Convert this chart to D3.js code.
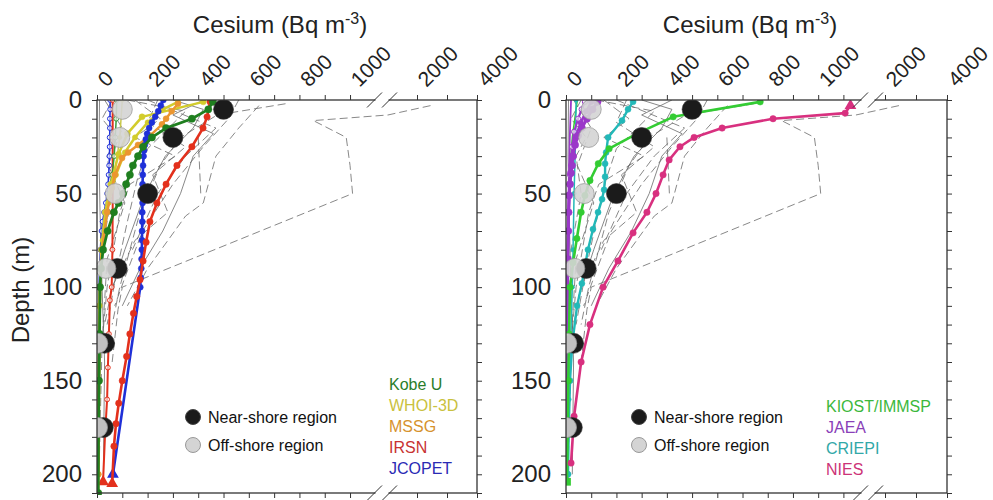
<!DOCTYPE html>
<html>
<head>
<meta charset="utf-8">
<script src="https://cdn.jsdelivr.net/npm/d3@7"></script>
<style>
  body { margin: 0; background: #fff; }
  text { font-family: "Liberation Sans", Arial, sans-serif; }
</style>
</head>
<body>
<svg id="chart" width="993" height="500"></svg>
<script>
// ---- Observed cesium profiles (depth m, Bq m-3) ----
const nearShore = [[5, 500], [20, 300], [50, 200], [90, 80], [130, 30], [175, 25]];
const offShore  = [[5, 100], [20, 90], [50, 72], [90, 35], [130, 3], [175, 2]];

// ---- Models, left panel: [depth, Cs] ----
const kobeU1 = [[1,458],[5,440],[10,375],[15,273],[20,217],[25,182],[30,162],[35,142],[40,130],[45,115],[50,103],[55,85],[60,67],[70,42],[80,24],[90,16],[100,12],[125,10],[150,8],[175,6],[210,5]];
const kobeU2 = [[0,78],[10,76],[20,72],[30,68],[40,60],[50,50],[60,42],[70,30],[80,20],[90,14],[100,10],[150,6],[200,4]];
const whoi1  = [[1,420],[9,178],[18,120],[29,85],[45,55],[60,32],[80,17],[110,9],[150,6],[210,5]];
const whoi2  = [[1,320],[5,260],[12,200],[20,150],[28,110],[40,75],[55,45],[75,22],[100,12],[150,8],[200,6]];
const whoi3  = [[0,100],[20,90],[40,70],[60,40],[80,20],[100,12],[150,8],[200,5]];
const mssg1  = [[2,320],[6,295],[10,273],[13,257],[19,210],[24,162],[28,123],[31,99],[40,71],[47,59],[60,40],[80,20],[100,12],[150,8],[200,5]];
const irsn1  = [[1,447],[9,435],[15,419],[25,375],[35,316],[45,273],[55,237],[65,209],[76,194],[86,182],[96,170],[105,157],[114,144],[125,130],[137,117],[150,100],[162,86],[173,75],[185,67],[205,60]];
const irsn2  = [[0,62],[20,62],[40,62],[60,62],[80,61],[100,58],[107,51],[125,47],[143,43],[160,40],[178,32],[204,24]];
const jcopet1 = [[0,262],[3,252],[6,242],[9,230],[12,217],[15,206],[18,198],[21,193],[24,189],[27,186],[30,184],[35,182],[40,181],[45,180],[50,180],[55,180],[60,179],[65,179],[70,178],[75,178],[80,177],[85,176],[90,175],[95,173],[100,171],[200,63]];
const jcopet2 = [[0,52],[5,52],[10,51],[15,51],[20,50],[25,50],[30,49],[35,48],[40,46],[45,44],[50,40],[55,35],[60,28],[65,22],[70,18],[80,13],[90,10],[100,8],[200,4]];

// ---- Models, right panel ----
const kiost1 = [[1,770],[9,425],[18,282],[26,171],[34,128],[43,95],[51,75],[60,60],[74,43],[87,28],[100,16],[125,12],[150,9],[175,7],[204,4]];
const kiost2 = [[0,45],[10,35],[20,25],[40,15],[60,12],[100,8],[200,4]];
const jaea1  = [[1,125],[5,105],[10,83],[15,63],[19,48],[24,36],[30,28],[35,24],[39,20],[45,16],[51,12],[60,10],[70,9],[85,7],[100,6],[125,5],[150,4],[175,3],[200,3]];
const jaea2  = [[1,75],[5,62],[10,48],[17,32],[25,24],[40,16],[60,11],[100,6],[150,4],[200,2]];
const jaea3  = [[0,20],[20,15],[50,10],[100,6],[200,3]];
const jaea4  = [[1,100],[6,80],[12,58],[20,38],[30,24],[45,15],[70,9],[100,5],[200,2]];
const criepi1 = [[1,266],[5,246],[11,222],[20,167],[28,159],[34,155],[41,155],[48,151],[53,143],[60,127],[69,107],[80,87],[89,75],[98,63],[110,44],[130,25],[150,16],[175,11],[200,8]];
const criepi2 = [[0,40],[20,38],[50,32],[80,28],[100,25],[130,18],[160,12],[200,6]];
const nies1  = [[3,1128],[7,1107],[10,821],[15,619],[20,508],[25,452],[32,409],[40,385],[50,357],[60,321],[71,266],[86,206],[100,147],[120,95],[140,60],[169,32],[194,20]];

// ---- Ensemble members drawn as thin grey background lines ----
const web1  = [[3,2450],[8,1150],[11,855],[20,985],[35,1000],[50,1010],[100,100],[112,83],[140,60]];
const web2  = [[2,745],[8,475],[20,330],[35,250],[60,170],[100,90],[120,60]];
const web3  = [[0,560],[10,520],[25,420],[45,300],[70,180],[95,110],[110,70]];
const web4  = [[0,300],[5,420],[15,380],[30,270],[50,190],[80,110],[105,50]];
const web5  = [[0,150],[10,250],[20,150],[30,310],[45,130],[60,90],[100,40],[130,20]];
const web6  = [[0,60],[10,20],[20,80],[30,40],[50,60],[80,20],[100,15],[200,5]];
const web7  = [[0,240],[12,200],[25,350],[40,220],[60,280],[75,150],[100,60],[120,30]];
const web8  = [[0,420],[8,300],[18,460],[30,380],[50,330],[70,260],[90,170],[110,100]];
const web9  = [[0,30],[15,100],[35,45],[55,110],[85,40],[130,20],[200,8]];
const web10 = [[3,640],[15,560],[30,470],[55,420],[62,350],[90,200],[110,120]];
const web11 = [[0,120],[6,350],[14,290],[26,200],[42,160],[65,120],[90,80],[120,40]];
const web12 = [[0,10],[30,8],[60,12],[100,20],[140,30],[200,25]];
const web13 = [[20,400],[50,410]];
const web14 = [[0,200],[15,470],[30,350],[50,240],[80,140]];
const webLines = [web1, web2, web3, web4, web5, web6, web7, web8, web9, web10, web11, web12, web13, web14];

// ---- Axis ticks ----
const depthTicks = d3.range(0, 211, 10);
const depthLabels = [0, 50, 100, 150, 200];
const csLabels = [0, 200, 400, 600, 800, 1000, 2000, 4000];

const svg = d3.select("#chart");
const FONT = "'Liberation Sans', Arial, sans-serif";

function drawPanel(cfg) {
  const g = svg.append("g");
  const x = d3.scaleLinear().domain([0, 1150, 2000, 4000]).range(cfg.xRange);
  const y = d3.scaleLinear().domain([0, 210]).range([100, 493]);
  const [x0, x1] = [cfg.xRange[0], cfg.xRange[3]];
  const [y0, y1] = [100, 493];

  const clipId = "clip" + cfg.id;
  svg.append("defs").append("clipPath").attr("id", clipId)
    .append("rect").attr("x", x0).attr("y", y0).attr("width", x1 - x0).attr("height", y1 - y0 + 2);

  const line = d3.line().x(p => x(p[1])).y(p => y(p[0]));
  const plot = g.append("g").attr("clip-path", `url(#${clipId})`);

  // background ensemble
  webLines.forEach((p, i) => {
    plot.append("path").attr("d", line(p))
      .attr("fill", "none").attr("stroke", "#6a6a6a")
      .attr("stroke-width", 0.8)
      .attr("stroke-dasharray", i % 4 === 3 ? null : "8,4");
  });

  // model profiles
  cfg.series.forEach(s => {
    plot.append("path").attr("d", line(s.data))
      .attr("fill", "none").attr("stroke", s.color)
      .attr("stroke-width", s.width).attr("stroke-linejoin", "round");
    if (s.marker) {
      plot.selectAll(null).data(s.data.slice(s.skipFirst ? 1 : 0, s.skipLast ? -1 : undefined)).join("circle")
        .attr("cx", p => x(p[1])).attr("cy", p => y(p[0]))
        .attr("r", s.marker)
        .attr("fill", s.hollow ? "#fff" : s.color)
        .attr("stroke", s.color).attr("stroke-width", s.hollow ? 1 : 0.5)
        .attr("fill-opacity", s.hollow ? 0.6 : 1);
    }
    if (s.end) {
      const p = s.end === "first" ? s.data[0] : s.data[s.data.length - 1];
      plot.append("path")
        .attr("d", d3.symbol().type(s.endType === "square" ? d3.symbolSquare : d3.symbolTriangle).size(60)())
        .attr("transform", `translate(${x(p[1])},${y(p[0])})`)
        .attr("fill", s.color);
    }
  });

  // observations
  plot.selectAll(null).data(nearShore).join("circle")
    .attr("cx", p => x(p[1])).attr("cy", p => y(p[0])).attr("r", 10)
    .attr("fill", "#1b1b1b").attr("stroke", "#333").attr("stroke-width", 0.6);
  plot.selectAll(null).data(offShore).join("circle")
    .attr("cx", p => x(p[1])).attr("cy", p => y(p[0])).attr("r", 10)
    .attr("fill", "#d4d4d4").attr("fill-opacity", 0.9)
    .attr("stroke", "#999").attr("stroke-width", 0.8);

  // axes
  const xTickVals = d3.range(0, cfg.maxLinear + 1, 100).concat([2000, 3000, 4000]);
  const top = g.append("g").attr("transform", `translate(0,${y0})`)
    .call(d3.axisTop(x).tickValues(xTickVals).tickSize(5)
      .tickFormat(d => csLabels.includes(d) ? d : ""));
  top.select(".domain").remove();
  top.selectAll("line").attr("stroke", "#333");
  top.selectAll("text")
    .attr("x", 0).attr("y", 0).attr("dy", 0)
    .attr("text-anchor", "start")
    .attr("transform", "translate(9,-12) rotate(-45)")
    .attr("font-size", 21).attr("font-family", FONT).attr("fill", "#222");

  const bottom = g.append("g").attr("transform", `translate(0,${y1})`)
    .call(d3.axisBottom(x).tickValues(xTickVals).tickSize(5).tickFormat(""));
  bottom.select(".domain").remove();
  bottom.selectAll("line").attr("stroke", "#333");

  const left = g.append("g").attr("transform", `translate(${x0},0)`)
    .call(d3.axisLeft(y).tickValues(depthTicks).tickSize(5)
      .tickFormat(d => depthLabels.includes(d) ? d : ""));
  left.select(".domain").remove();
  left.selectAll("line").attr("stroke", "#333");
  left.selectAll("text").attr("x", -15).attr("font-size", 24)
    .attr("font-family", FONT).attr("fill", "#222");

  const right = g.append("g").attr("transform", `translate(${x1},0)`)
    .call(d3.axisRight(y).tickValues(depthTicks).tickSize(5).tickFormat(""));
  right.select(".domain").remove();
  right.selectAll("line").attr("stroke", "#333");

  // frame
  g.append("rect").attr("x", x0).attr("y", y0).attr("width", x1 - x0).attr("height", y1 - y0)
    .attr("fill", "none").attr("stroke", "#333").attr("stroke-width", 1.3);

  // axis breaks
  [y0, y1].forEach(yy => {
    g.append("rect").attr("x", cfg.breakX + 1).attr("y", yy - 2).attr("width", 13).attr("height", 4).attr("fill", "#fff");
    [cfg.breakX, cfg.breakX + 15].forEach(bx => {
      g.append("line").attr("x1", bx - 7.5).attr("y1", yy + 7.5).attr("x2", bx + 7.5).attr("y2", yy - 7.5)
        .attr("stroke", "#333").attr("stroke-width", 1);
    });
  });

  // title
  const t = g.append("text").attr("x", cfg.titleX).attr("y", 33)
    .attr("text-anchor", "middle").attr("font-size", 24).attr("font-family", FONT).attr("fill", "#222");
  t.append("tspan").text("Cesium (Bq m");
  t.append("tspan").attr("font-size", 16).attr("dy", -9).text("-3");
  t.append("tspan").attr("dy", 9).text(")");

  // observation legend
  const lg = g.append("g").attr("transform", `translate(${cfg.legendX},0)`);
  lg.append("circle").attr("cx", 0).attr("cy", 417).attr("r", 7.5).attr("fill", "#1b1b1b").attr("stroke", "#444");
  lg.append("circle").attr("cx", 0).attr("cy", 445).attr("r", 7.5).attr("fill", "#d4d4d4").attr("stroke", "#999");
  lg.append("text").attr("x", 15).attr("y", 423).attr("font-size", 16).attr("fill", "#111").text("Near-shore region");
  lg.append("text").attr("x", 15).attr("y", 451).attr("font-size", 16).attr("fill", "#111").text("Off-shore region");

  // model names
  cfg.names.forEach((n, i) => {
    g.append("text").attr("x", cfg.namesX).attr("y", cfg.namesY + i * 21)
      .attr("font-size", 16).attr("fill", n.color).text(n.label);
  });
}

const C = {
  kobe: "#1f7f1f", whoi: "#d2cc2c", mssg: "#eb9630", irsn: "#e3301c", jcopet: "#1f30d8",
  kiost: "#33cc33", jaea: "#9b38c9", criepi: "#22b8b8", nies: "#d8307f"
};

drawPanel({
  id: "L", xRange: [97, 388, 417, 477], maxLinear: 1000, breakX: 374.5, titleX: 280, legendX: 193,
  namesX: 389, namesY: 390,
  series: [
    { data: jcopet2, color: C.jcopet, width: 1.5, marker: 2.4, hollow: true },
    { data: irsn2, color: C.irsn, width: 2, marker: 2.4, hollow: true, end: "last", skipLast: true },
    { data: kobeU2, color: "#3a9a3a", width: 1.5, marker: 2.4, hollow: true },
    { data: whoi3, color: "#c8c84a", width: 1.5, marker: 2.2 },
    { data: whoi2, color: C.whoi, width: 2.5, marker: 2.6 },
    { data: whoi1, color: C.whoi, width: 2.5, marker: 3 },
    { data: mssg1, color: C.mssg, width: 2.5, marker: 3 },
    { data: jcopet1, color: C.jcopet, width: 2.6, marker: 3, end: "last", skipLast: true },
    { data: irsn1, color: C.irsn, width: 2.6, marker: 3.2, end: "last", skipLast: true },
    { data: kobeU1, color: C.kobe, width: 2.8, marker: 3.6 }
  ],
  names: [
    { label: "Kobe U", color: "#2a7d2a" },
    { label: "WHOI-3D", color: "#c9c13e" },
    { label: "MSSG", color: "#d6922e" },
    { label: "IRSN", color: "#c83232" },
    { label: "JCOPET", color: "#2a2ab4" }
  ]
});

drawPanel({
  id: "R", xRange: [566, 856, 885, 947], maxLinear: 1100, breakX: 860.5, titleX: 750, legendX: 639,
  namesX: 826, namesY: 412,
  series: [
    { data: jaea3, color: C.jaea, width: 1.8 },
    { data: kiost2, color: C.kiost, width: 1.5 },
    { data: criepi2, color: C.criepi, width: 1.5, marker: 2.2 },
    { data: jaea4, color: C.jaea, width: 2.4, marker: 2.8 },
    { data: jaea2, color: C.jaea, width: 2.2, marker: 2.6, hollow: true },
    { data: jaea1, color: C.jaea, width: 3, marker: 3.6 },
    { data: criepi1, color: C.criepi, width: 2.4, marker: 3 },
    { data: kiost1, color: C.kiost, width: 2.6, marker: 3.2, end: "last", endType: "square", skipLast: true },
    { data: nies1, color: C.nies, width: 2.6, marker: 3.2, end: "first", skipFirst: true }
  ],
  names: [
    { label: "KIOST/IMMSP", color: "#3cb83c" },
    { label: "JAEA", color: "#8a3fb8" },
    { label: "CRIEPI", color: "#32a8a8" },
    { label: "NIES", color: "#cc3378" }
  ]
});

// shared depth label
svg.append("text").attr("transform", "translate(29,290) rotate(-90)")
  .attr("text-anchor", "middle").attr("font-size", 24).attr("font-family", FONT).attr("fill", "#222")
  .text("Depth (m)");
</script>
</body>
</html>
